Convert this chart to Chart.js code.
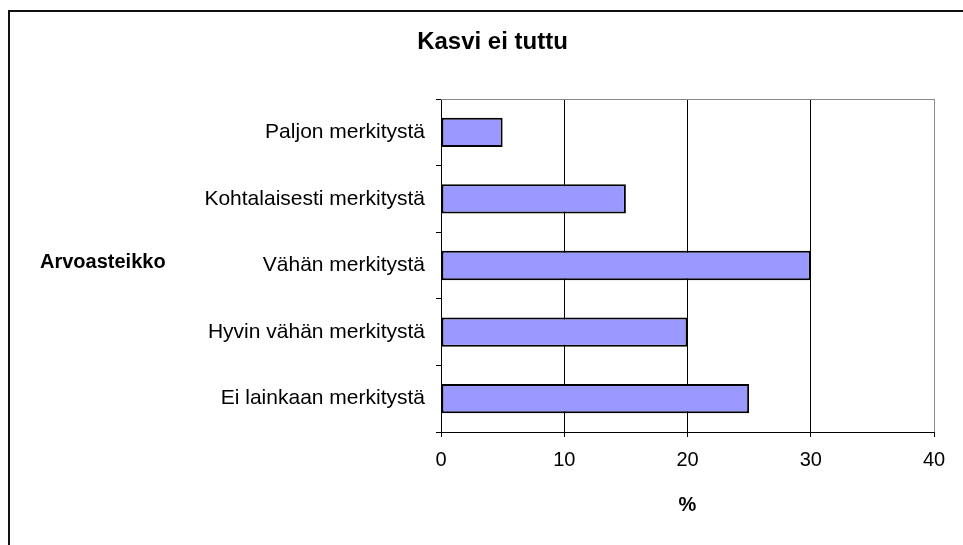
<!DOCTYPE html>
<html>
<head>
<meta charset="utf-8">
<script src="https://cdn.jsdelivr.net/npm/chart.js@4"></script>
<style>
    body { margin: 0; background: #fff; }
    #wrap { position: relative; width: 963px; height: 545px; overflow: hidden; }
    #frame { position: absolute; left: 8px; top: 10px; width: 1200px; height: 800px; border: 2px solid #111; }
    #myChart { position: absolute; left: 0; top: 0; }
</style>
</head>
<body>
<div id="wrap">
    <div id="frame"></div>
    <canvas id="myChart" width="963" height="545"></canvas>
</div>
<script>
// arvot luettu kuvasta
const categories = ['Paljon merkitystä', 'Kohtalaisesti merkitystä', 'Vähän merkitystä', 'Hyvin vähän merkitystä', 'Ei lainkaan merkitystä'];
const percents = [5, 15, 30, 20, 25];
const xTicks = [0, 10, 20, 30, 40];

const chartTitle = 'Kasvi ei tuttu';
const yTitle = 'Arvoasteikko';
const xTitle = '%';

const fontFamily = '"Liberation Sans", Arial, sans-serif';

// harmaa yläreuna, otsikko ja vaakasuora y-akselin otsikko
const extras = {
    id: 'extras',
    beforeDatasetsDraw(chart) {
        const {ctx, chartArea} = chart;
        ctx.save();
        ctx.strokeStyle = '#888';
        ctx.lineWidth = 1;
        ctx.beginPath();
        ctx.moveTo(chartArea.left, chartArea.top + 0.5);
        ctx.lineTo(chartArea.right, chartArea.top + 0.5);
        ctx.stroke();
        ctx.restore();
    },
    afterDraw(chart) {
        const {ctx, chartArea} = chart;
        ctx.save();
        ctx.fillStyle = '#000';
        ctx.textBaseline = 'middle';

        ctx.font = 'bold 24px ' + fontFamily;
        ctx.textAlign = 'center';
        ctx.fillText(chartTitle, chart.width / 2 + 11, 42);

        ctx.font = 'bold 20px ' + fontFamily;
        ctx.textAlign = 'left';
        ctx.fillText(yTitle, 40, (chartArea.top + chartArea.bottom) / 2 - 3);
        ctx.restore();
    }
};

const ctx = document.getElementById('myChart').getContext('2d');

new Chart(ctx, {
    type: 'bar',
    data: {
        labels: categories,
        datasets: [{
            data: percents,
            backgroundColor: '#9999FF',
            borderColor: '#000',
            borderWidth: 2,
            borderSkipped: false,
            barPercentage: 0.44,
            categoryPercentage: 1
        }]
    },
    options: {
        indexAxis: 'y',
        responsive: false,
        animation: false,
        layout: { padding: { left: 0, right: 29, top: 99, bottom: 0 } },
        plugins: {
            legend: { display: false },
            tooltip: { enabled: false },
            title: { display: false }
        },
        scales: {
            x: {
                min: 0,
                max: 40,
                afterBuildTicks: s => { s.ticks = xTicks.map(v => ({ value: v })); },
                afterFit: s => { s.height = 113; },
                ticks: {
                    color: '#000',
                    padding: 11,
                    font: { family: fontFamily, size: 20 }
                },
                grid: {
                    color: c => c.index === xTicks.length - 1 ? '#888' : '#000',
                    tickColor: '#000',
                    tickLength: 5,
                    lineWidth: 1
                },
                border: { color: '#000', width: 1 },
                title: {
                    display: true,
                    text: xTitle,
                    color: '#000',
                    font: { family: fontFamily, size: 20, weight: 'bold' },
                    padding: { top: 0, bottom: 28 }
                }
            },
            y: {
                afterFit: s => { s.width = 441; },
                ticks: {
                    color: '#000',
                    padding: 11,
                    font: { family: fontFamily, size: 21 }
                },
                grid: {
                    offset: true,
                    drawOnChartArea: false,
                    drawTicks: true,
                    tickLength: 5,
                    color: '#000'
                },
                border: { color: '#000', width: 1 }
            }
        }
    },
    plugins: [extras]
});
</script>
</body>
</html>
